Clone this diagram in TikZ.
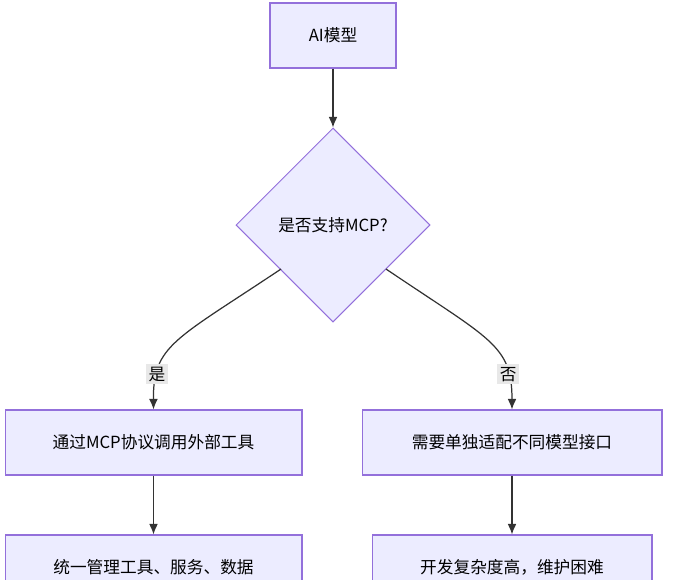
\documentclass[tikz,border=0pt]{standalone}
\usepackage{fontspec}
\setmainfont{Noto Sans CJK SC}
\usetikzlibrary{positioning}
\usetikzlibrary{shapes.geometric}
\usetikzlibrary{arrows.meta}
\definecolor{boxfill}{HTML}{ECECFF}
\definecolor{boxline}{HTML}{9370DB}
\definecolor{edgelab}{HTML}{E8E8E8}

\begin{document}
\begin{tikzpicture}[x=0.02cm,y=-0.02cm,
    box/.style={draw=boxline, fill=boxfill, line width=0.6pt, minimum height=1.3cm, inner sep=0pt, font=\fontsize{9.5}{11}\selectfont},
    choice/.style={draw=boxline, fill=boxfill, line width=0.6pt, diamond, aspect=1, minimum width=3.88cm, minimum height=3.88cm, inner sep=0pt, font=\fontsize{9.5}{11}\selectfont},
    link/.style={draw=black!80, line width=0.7pt, -{Latex[length=6pt,width=5pt]}},
    tag/.style={fill=edgelab, inner sep=1.5pt, font=\fontsize{9.5}{11}\selectfont}]
\useasboundingbox (0,0) rectangle (676,579);

\node[box, minimum width=2.52cm] (model) at (333,35.5) {AI模型};
\node[choice] (mcp) at (333,225) {是否支持MCP?};
\node[box, minimum width=5.94cm] (yes) at (153.5,442.5) {通过MCP协议调用外部工具};
\node[box, minimum width=6cm] (no) at (512,442.5) {需要单独适配不同模型接口};
\node[box, minimum width=5.94cm] (unify) at (153.5,567.5) {统一管理工具、服务、数据};
\node[box, minimum width=5.6cm] (hard) at (512,567.5) {开发复杂度高，维护困难};

% curved branches
\coordinate (yesout) at (281,269);
\coordinate (noout) at (386,269);

\draw[link] (model) -- (mcp);
\draw[link] (yesout) .. controls (175,340) and (153,345) .. (yes.north)
  node[tag, pos=0.78] {是};
\draw[link] (noout) .. controls (491,340) and (512,345) .. (no.north)
  node[tag, pos=0.78] {否};
\draw[link] (yes) -- (unify);
\draw[link] (no) -- (hard);

\end{tikzpicture}
\end{document}
